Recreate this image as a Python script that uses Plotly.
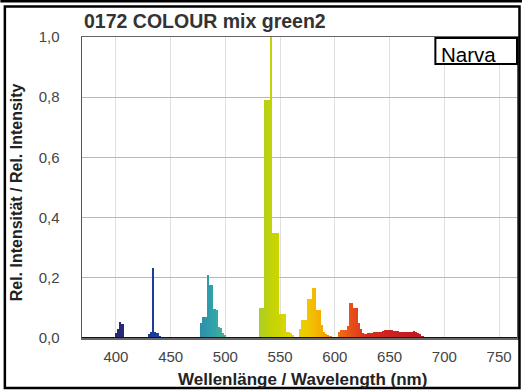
import plotly.graph_objects as go

# ---- data ----
wavelength_nm = [
    400, 402, 404, 406,
    430, 432, 434, 436, 438, 440,
    478, 480, 482, 484, 486, 488, 490, 492, 494, 496, 498, 500,
    532, 534, 536, 538, 540, 542, 544, 546, 548, 550, 552, 554, 556, 558, 560, 562, 564,
    568, 570, 572, 574, 576, 578, 580, 582, 584, 586, 588, 590, 592, 594, 596, 598,
    604, 606, 608, 610, 612, 614, 616, 618, 620, 622, 624, 626,
    628, 630, 632, 634, 636, 638, 640, 642, 644, 646, 648, 650, 652, 654, 656, 658,
    660, 662, 664, 666, 668, 670, 672, 674, 676, 678, 680,
]
rel_intensity = [
    0.017, 0.03, 0.053, 0.045,
    0.012, 0.02, 0.233, 0.02, 0.015, 0.008,
    0.05, 0.07, 0.07, 0.21, 0.175, 0.175, 0.095, 0.093, 0.035, 0.033, 0.015, 0.01,
    0.1, 0.1, 0.79, 0.79, 0.79, 1.0, 0.35, 0.35, 0.35, 0.08, 0.08, 0.08, 0.02, 0.02, 0.015, 0.01, 0.005,
    0.03, 0.06, 0.06, 0.06, 0.13, 0.13, 0.165, 0.165, 0.093, 0.093, 0.043, 0.02, 0.012, 0.01, 0.008, 0.005,
    0.02, 0.027, 0.027, 0.027, 0.04, 0.116, 0.116, 0.1, 0.1, 0.05, 0.03, 0.015,
    0.012, 0.015, 0.018, 0.018, 0.02, 0.02, 0.02, 0.02, 0.022, 0.025, 0.025, 0.025, 0.025, 0.024, 0.022, 0.022,
    0.02, 0.02, 0.02, 0.02, 0.02, 0.02, 0.022, 0.02, 0.018, 0.012, 0.008,
]
x_ticks = [400, 450, 500, 550, 600, 650, 700, 750]
y_ticks = [0.0, 0.2, 0.4, 0.6, 0.8, 1.0]
y_ticktext = ["0,0", "0,2", "0,4", "0,6", "0,8", "1,0"]

title_text = "0172 COLOUR mix green2"
x_title = "Wellenlänge / Wavelength (nm)"
y_title = "Rel. Intensität / Rel. Intensity"
legend_text = "Narva"

# ---- colour of a wavelength (styling) ----
_anchors = [
    (380, (40, 35, 110)), (405, (40, 40, 120)), (436, (30, 60, 155)),
    (470, (40, 130, 170)), (490, (50, 165, 170)), (510, (100, 190, 120)),
    (530, (170, 205, 40)), (545, (200, 212, 0)), (560, (225, 215, 0)),
    (575, (240, 200, 0)), (588, (245, 170, 0)), (600, (240, 120, 20)),
    (615, (232, 80, 25)), (630, (215, 45, 30)), (660, (200, 30, 35)),
    (700, (180, 20, 40)),
]


def wl_color(nm):
    for (a, ca), (b, cb) in zip(_anchors[:-1], _anchors[1:]):
        if a <= nm <= b:
            t = (nm - a) / (b - a)
            c = [round(ca[i] + (cb[i] - ca[i]) * t) for i in range(3)]
            return f"rgb({c[0]},{c[1]},{c[2]})"
    return "rgb(180,20,40)"


bar_colors = [wl_color(w) for w in wavelength_nm]

fig = go.Figure()
fig.add_trace(go.Bar(
    x=wavelength_nm, y=rel_intensity, width=2.0,
    marker=dict(color=bar_colors, line=dict(width=0)),
    hoverinfo="x+y",
))

# plot area in pixels: left 82, right 519, top 37, bottom 338
L, R, T, B = 82, 519, 37, 338
W, H = 524, 390


def px(x):
    return (x - L) / (R - L)


def py(y):
    return (B - y) / (B - T)


FONT = "Liberation Sans, Arial, sans-serif"

fig.update_layout(
    width=W, height=H,
    margin=dict(l=L, r=W - R, t=T, b=H - B),
    paper_bgcolor="white", plot_bgcolor="white",
    showlegend=False, bargap=0,
    font=dict(family=FONT, color="#444"),
    xaxis=dict(
        range=[369, 766.4], tickvals=x_ticks, ticks="",
        showgrid=True, gridcolor="#e0e0e0", gridwidth=1,
        showline=True, mirror=True, linecolor="#666", linewidth=1.5,
        zeroline=False, tickfont=dict(size=15, color="#444"),
        ticklabelstandoff=4,
    ),
    yaxis=dict(
        range=[0, 1.0], tickvals=y_ticks, ticktext=y_ticktext, ticks="",
        showgrid=True, gridcolor="#b8b8b8", gridwidth=1,
        showline=True, mirror=True, linecolor="#555", linewidth=1.5,
        zeroline=False, tickfont=dict(size=15, color="#444"),
        ticklabelstandoff=18,
    ),
    shapes=[
        dict(type="line", xref="paper", yref="y", x0=0, x1=1, y0=0, y1=0,
             line=dict(color="#111", width=2), layer="above"),
        dict(type="rect", xref="paper", yref="paper",
             x0=px(437), x1=px(519), y0=py(64), y1=py(38),
             fillcolor="white", line=dict(color="black", width=2), layer="above"),
        dict(type="line", xref="paper", yref="paper",
             x0=px(0), x1=px(524), y0=py(1.2), y1=py(1.2),
             line=dict(color="black", width=2.5), layer="above"),
        dict(type="rect", xref="paper", yref="paper",
             x0=px(4.5), x1=px(521.5), y0=py(388), y1=py(6.5),
             line=dict(color="black", width=2.5), layer="above"),
    ],
    annotations=[
        dict(text=title_text, xref="paper", yref="paper", x=px(82), y=py(21),
             xanchor="left", yanchor="middle", showarrow=False,
             font=dict(size=19.5, color="#333", family=FONT, weight="bold")),
        dict(text=x_title, xref="paper", yref="paper", x=px(304), y=py(379),
             xanchor="center", yanchor="middle", showarrow=False,
             font=dict(size=17, color="#222", family=FONT, weight="bold")),
        dict(text=y_title, xref="paper", yref="paper", x=px(17), y=py(192),
             xanchor="center", yanchor="middle", showarrow=False, textangle=-90,
             font=dict(size=16, color="#222", family=FONT, weight="bold")),
        dict(text=legend_text, xref="paper", yref="paper", x=px(441), y=py(55),
             xanchor="left", yanchor="middle", showarrow=False,
             font=dict(size=20.5, color="black", family=FONT)),
    ],
)

fig.write_html(
    "out.html",
    config={"displayModeBar": False, "staticPlot": True},
    post_script="document.body.style.margin='0';document.body.style.overflow='hidden';",
)
